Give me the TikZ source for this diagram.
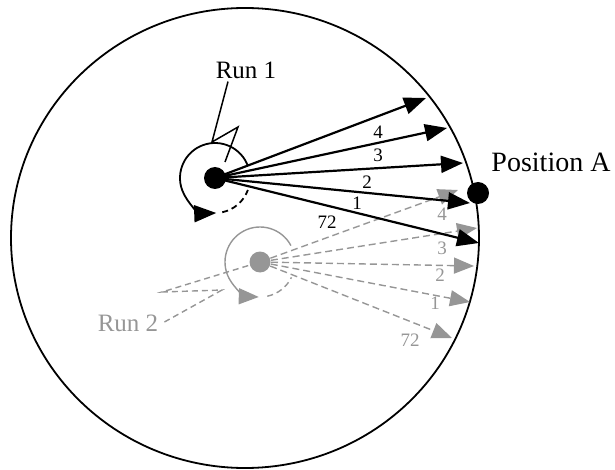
\documentclass[tikz,border=0pt]{standalone}
\usepackage{fontspec}
\setmainfont{Liberation Serif}
\usetikzlibrary{arrows.meta}
\definecolor{lgray}{RGB}{150,150,150}
\definecolor{tgray}{RGB}{150,150,150}
\tikzset{
  blkarrow/.style={line width=2.2pt,-{Triangle[length=22pt,width=17pt]}},
  grayarrow/.style={lgray,line width=1.4pt,dash pattern=on 7pt off 4pt,-{Triangle[length=20pt,width=16pt]}},
  blabel/.style={font=\fontsize{19}{22}\selectfont,inner sep=0pt},
  glabel/.style={font=\fontsize{19}{22}\selectfont,inner sep=0pt,text=tgray},
  bigtext/.style={font=\fontsize{25}{30}\selectfont,inner sep=0pt},
  dot/.style={circle,fill=black,minimum size=22pt,inner sep=0pt},
  gdot/.style={circle,fill=lgray,minimum size=21pt,inner sep=0pt},
}
\begin{document}
\begin{tikzpicture}[x=1pt,y=1pt]
\useasboundingbox (0,0) rectangle (615,469);
% outer ellipse
\draw[line width=1.8pt] (245,231) ellipse [x radius=234, y radius=230];

% centres and tips
\coordinate (c1) at (215,291);
\coordinate (c2) at (260,207);
\coordinate (t1) at (426,371);
\coordinate (t2) at (447,341);
\coordinate (t3) at (463,306);
\coordinate (t4) at (470,266);
\coordinate (t5) at (479,226);
\coordinate (g1) at (458,279);
\coordinate (g2) at (477,241);
\coordinate (g3) at (474,203);
\coordinate (g4) at (470,167);
\coordinate (g5) at (452,131);

% ---- Run 2 (gray) ----
\foreach \t in {g1,g2,g3,g4,g5} \draw[grayarrow] (c2) -- (\t);
\draw[lgray,line width=1.4pt,-{Triangle[length=20pt,width=16pt]}]
  (c2) ++(28:35) arc[start angle=28,end angle=268,radius=35];
\draw[lgray,line width=1.4pt,dash pattern=on 6pt off 4pt]
  (c2) ++(282:35) arc[start angle=282,end angle=334,radius=35];
\node[gdot] (gd) at (c2) {};
\coordinate (r2a) at (222,179);
\coordinate (r2b) at (162,177);
\node[bigtext,text=tgray] (run2) at (128,146) {Run 2};
\draw[lgray,line width=1.4pt,dash pattern=on 6pt off 4pt]
  (run2.east) ++(6,1) -- (r2a) -- (r2b) -- (gd);
\node[glabel] (gl4) at (442,255) {4};
\node[glabel] (gl3) at (442,221) {3};
\node[glabel] (gl2) at (440,194) {2};
\node[glabel] (gl1) at (435,166) {1};
\node[glabel] (gl72) at (410,129) {72};

% ---- Run 1 (black) ----
\foreach \t in {t1,t2,t3,t4,t5} \draw[blkarrow] (c1) -- (\t);
\draw[line width=1.8pt,-{Triangle[length=22pt,width=17pt]}]
  (c1) ++(20:35) arc[start angle=20,end angle=272,radius=35];
\draw[line width=1.8pt,dash pattern=on 6pt off 4pt]
  (c1) ++(282:35) arc[start angle=282,end angle=340,radius=35];
\node[dot] (d1) at (c1) {};
\node[bigtext] (run1) at (246,399) {Run 1};
\coordinate (l1) at (212,327);
\coordinate (l2) at (238,342);
\coordinate (l3) at (225,307);
\draw[line width=1.5pt] (run1.south) ++(-18,-3) -- (l1) -- (l2) -- (l3);
\node[blabel] (bl4) at (378,337) {4};
\node[blabel] (bl3) at (378,314) {3};
\node[blabel] (bl2) at (367,287) {2};
\node[blabel] (bl1) at (357,266) {1};
\node[blabel] (bl72) at (327,247) {72};

% Position A
\node[dot] (pa) at (478,276) {};
\node[font=\fontsize{28}{32}\selectfont,inner sep=0pt] (pat) at (551,307) {Position A};
\end{tikzpicture}
\end{document}
